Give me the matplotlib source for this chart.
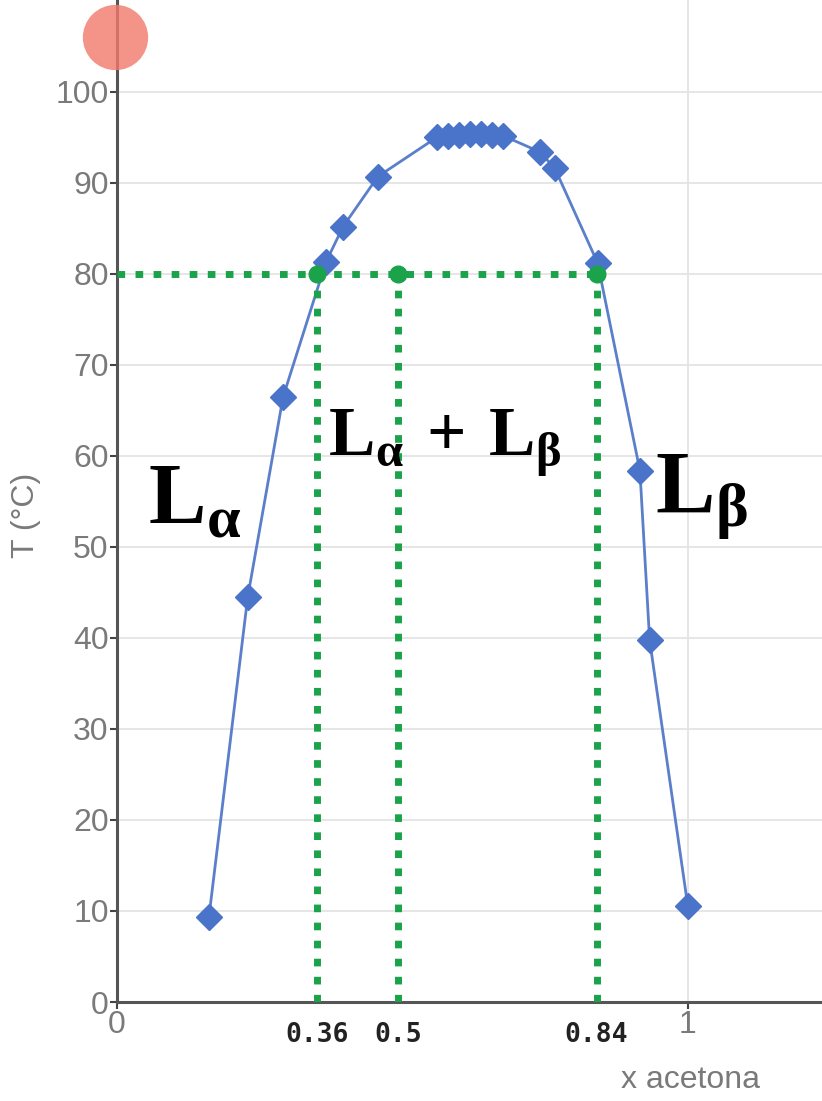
import matplotlib.pyplot as plt
import matplotlib as mpl

# equilibrium curve T vs x acetona
x_acetona = [0.161, 0.229, 0.291, 0.366, 0.396, 0.457,
             0.560, 0.580, 0.599, 0.618, 0.637, 0.657, 0.676,
             0.741, 0.767, 0.842, 0.916, 0.933, 1.0]
T_c = [9.3, 44.5, 66.5, 81.3, 85.2, 90.7,
       95.0, 95.2, 95.3, 95.4, 95.4, 95.3, 95.2,
       93.4, 91.6, 81.2, 58.4, 39.8, 10.5]

# tie line at 80 C
T_tie = 80
x_tie = [0.35, 0.493, 0.84]
tie_labels = ['0.36', '0.5', '0.84']

y_ticks = list(range(0, 101, 10))

# highlight circle in the corner
cursor_x, cursor_y = -0.004, 106

mpl.rcParams['font.family'] = ['Liberation Sans', 'DejaVu Sans']
mpl.rcParams['mathtext.fontset'] = 'custom'
mpl.rcParams['mathtext.bf'] = 'Liberation Serif:bold'
mpl.rcParams['mathtext.rm'] = 'Liberation Serif:bold'

fig = plt.figure(figsize=(8.22, 11.01), dpi=100)
ax = fig.add_axes([117/822, 99/1101, 705/822, 1002/1101])
ax.set_xlim(0, 1.235)
ax.set_ylim(0, 110.1)

grey = '#7a7a7a'
green = '#1aa34a'
blue = '#4a74c9'

# grid
for yv in y_ticks[1:]:
    ax.axhline(yv, color='#e4e4e4', lw=1.3, zorder=0)
ax.axvline(1.0, color='#e4e4e4', lw=1.3, zorder=0)

# curve
ax.plot(x_acetona, T_c, color='#5b7fca', lw=2.0, zorder=3)
ax.plot(x_acetona, T_c, 'D', color=blue, ms=13, mec=blue, zorder=4, ls='none')

# dotted tie lines
ax.plot([0, max(x_tie)], [T_tie, T_tie], color=green, lw=5,
        dashes=(1.1, 1.5), dash_capstyle='butt', zorder=5, clip_on=False)
for xv in x_tie:
    ax.plot([xv, xv], [0, T_tie], color=green, lw=5,
            dashes=(1.1, 1.5), dash_capstyle='butt', zorder=5)
ax.plot(x_tie, [T_tie]*len(x_tie), 'o', color=green, ms=12, zorder=6)

# axes styling
for s in ['top', 'right']:
    ax.spines[s].set_visible(False)
for s in ['left', 'bottom']:
    ax.spines[s].set_color('#555555')
    ax.spines[s].set_linewidth(2.2)

ax.set_yticks(y_ticks)
ax.set_yticklabels([str(v) for v in y_ticks])
ax.set_xticks([0, 1])
ax.set_xticklabels(['0', '1'])
ax.tick_params(axis='both', colors='#444444', labelcolor=grey, labelsize=23,
               length=5, width=1.5, pad=1)

for xv, lab in zip(x_tie, tie_labels):
    ax.text(xv, -2.2, lab, ha='center', va='top', fontsize=19,
            family='DejaVu Sans Mono', weight='bold', color='#222222')

fig.text(690/822, 1 - 1080/1101, 'x acetona', ha='center', va='center',
         fontsize=23, color=grey)
fig.text(26/822, 1 - 515/1101, 'T (°C)', ha='center', va='center', rotation=90,
         fontsize=23, color=grey)

# phase labels
ax.text(0.055, 55, r'$\mathbf{L}_{\mathbf{\alpha}}$', fontsize=62,
        ha='left', va='center', color='black', zorder=7)
ax.text(0.37, 61.5,
        r'$\mathbf{L}_{\mathbf{\alpha}}\ \mathbf{+}\ \mathbf{L}_{\mathbf{\beta}}$',
        fontsize=50, ha='left', va='center', color='black', zorder=7)
ax.text(0.942, 55.5, r'$\mathbf{L}_{\mathbf{\beta}}$', fontsize=64,
        ha='left', va='center', color='black', zorder=7)

ax.plot([cursor_x], [cursor_y], 'o', ms=47, color='#f2796b', alpha=0.8,
        mec='none', clip_on=False, zorder=10)

fig.savefig('out.png', dpi=100)
